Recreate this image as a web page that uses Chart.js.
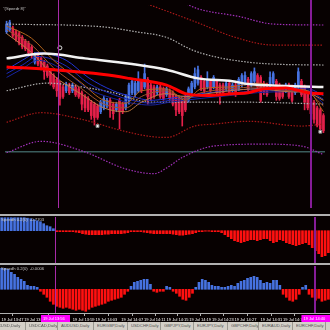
<!DOCTYPE html>
<html>
<head>
<meta charset="utf-8">
<script src="https://cdn.jsdelivr.net/npm/chart.js@4.4.0/dist/chart.umd.min.js"></script>
<style>
html, body { margin: 0; padding: 0; background: #070101; }
#wrap { position: relative; width: 330px; height: 330px; overflow: hidden; background: #070101; }
#wrap canvas { position: absolute; left: 0; }
.sep { position: absolute; left: 0; width: 330px; height: 2px; background: #b0b0b0; }
.lbl { position: absolute; left: 1px; font: 6px "Liberation Sans", sans-serif; color: #c8c8c8; white-space: nowrap;
       transform: scale(0.7); transform-origin: left top; }
#tabs { position: absolute; left: 0; top: 322px; width: 330px; height: 8px; background: #d4d0c8; }
.tab { position: absolute; top: 0; height: 8px; border-left: 1px solid #9a9890; }
.tab span { position: absolute; left: 3px; top: 1px; font: 6px "Liberation Sans", sans-serif; color: #505050;
            white-space: nowrap; transform: scale(0.7); transform-origin: left top; }
</style>
</head>
<body>
<div id="wrap">
  <canvas id="main" width="330" height="213" style="top:0"></canvas>
  <div class="sep" style="top:214px"></div>
  <canvas id="ind1" width="330" height="46" style="top:217px"></canvas>
  <div class="sep" style="top:263px"></div>
  <canvas id="ind2" width="330" height="56" style="top:266px"></canvas>
  <div class="lbl" style="top:6px;left:3px">"(Speedr 8)"</div>
  <div class="lbl" style="top:217px">Speedh 0.2(0)&nbsp;&nbsp;-0.7703</div>
  <div class="lbl" style="top:266px">Speedh 0.2(0)&nbsp;&nbsp;-0.0006</div>
  <div id="tabs"></div>
</div>
<script>
// candles, 1 bar per index (price in points)
const open  = [186,188,190,186,184,180,176,174,170,154, 162,158,154,150,144,140,136,132,128,124,
               130,124,128,126,122,118,116,112,110,108, 102,106,108,114,110,104,114,110,106,114,
               122,120,124,134,128,136,130,128,122,128, 126,120,124,122,118,116,114,118,114,122,
               128,132,138,134,128,134,128,134,130,130, 126,132,124,130,126,130,132,136,130,134,
               140,138,132,130,130,132,134,130,128,124, 130,128,122,128,134,128,122,116,112,106,
               104,98];
const high  = [197,198,192,188,186,182,178,176,172,164, 164,160,156,152,146,142,138,134,130,133,
               132,132,130,128,124,120,118,114,112,110, 114,118,116,116,112,112,116,112,120,132,
               136,134,144,136,152,138,132,130,130,130, 128,128,126,124,120,118,116,120,128,134,
               148,150,140,136,144,136,140,136,132,132, 134,134,132,132,138,142,144,138,144,148,
               142,140,134,132,144,144,136,132,130,132, 132,130,132,148,136,130,124,118,114,108,
               106,100];
const low   = [184,186,180,176,172,168,166,162,158,152, 150,146,136,138,130,126,118,109,116,122,
               120,122,118,116,104,102,102,94,88,94,    100,104,106,96,94,102,84,100,104,110,
               120,118,122,122,126,110,114,116,120,116, 114,118,114,108,98,100,87,102,112,120,
               126,130,124,122,126,122,126,120,110,120, 124,120,122,118,124,128,130,124,128,132,
               126,112,120,118,128,130,114,114,116,122, 116,112,120,126,118,104,104,96,90,86,
               80,80];
const close = [194,196,182,178,174,170,168,164,162,162, 152,148,144,140,132,128,124,116,118,131,
               122,130,120,118,110,106,104,98,96,96,    112,116,114,104,100,110,102,102,118,130,
               134,132,136,124,142,118,116,118,128,118, 116,126,116,110,104,102,98,104,126,132,
               142,146,126,124,136,124,138,122,118,122, 132,122,130,120,136,140,140,126,142,144,
               128,114,122,120,138,142,118,116,118,130, 118,114,130,144,120,112,106,100,94,88,
               84,82];

// moving averages and bands (bar index / price)
const whiteX = [0,12,25,40,51,61,72,77,90,101];
const whiteY = [158,163,158,152,146,137,134,131,129,128];
const redX = [0,15,31,39,51,57,64,72,77,82,89,96,101];
const redY = [149,146,141,137,130,121,119,121,122,126,127,122,121];

const brownX = [0,8,15,24,31,38,43,51,57,62,71,80,90,96,101];
const brownA = [192,179,156,132,114,111,124,126,114,126,128,132,126,124,102];
const brownB = [188,172,148,126,110,106,118,124,116,122,126,128,124,122,108];
const brownC = [184,164,140,120,106,102,112,121,118,120,124,126,123,122,114];
const blueX = [0,5,10,19,26,34,40,46,52,62,71,80,90,96,101];
const blueA = [146,156,164,156,138,124,118,114,116,121,124,126,126,126,119];
const blueB = [142,151,160,150,132,120,114,111,114,118,121,124,124,124,115];
const blueC = [138,147,156,144,126,116,111,109,112,116,119,122,123,123,111];

const purpleUpX = [52,58,61,74,85,101];
const purpleUpY = [222,214,210,202,194,193];
const darkRedUpX = [44,54,62,72,85,101];
const darkRedUpY = [216,204,194,181,172,172];
const grayUpX = [0,31,41,51,59,66,77,85,101];
const grayUpY = [194,191,186,180,167,160,154,152,151];
const grayLoX = [0,13,26,34,46,52,77,101];
const grayLoY = [124,132,127,122,112,112,112,110];
const darkRedLoX = [0,11,24,37,46,51,60,66,77,94,101];
const darkRedLoY = [91,101,94,82,76,75,87,89,92,87,89];
const purpleLoX = [0,11,24,38,47,51,56,66,82,94,101];
const purpleLoY = [59,71,61,42,37,43,54,66,68,66,57];
const levelY = 60;

const markX = [29, 100];
const markY = [87, 81];
const fractalX = [17];
const fractalY = [169];

// oscillators
const osc1 = [13,13,13,13,13,13,13,13,12.5,12, 11,10,9,7,5,4,2,-1,-1,-1,
              -1,-1,-1,-1.5,-2,-3,-3.5,-4,-4,-4, -4,-4,-3.5,-3.5,-3,-3,-3,-3,-2.5,-2,
              -1,-1,-1,-1,-1.5,-2,-2.5,-3,-3,-3, -3,-3,-3,-3.5,-4,-4.5,-4.5,-4,-3.5,-3,
              -2,-1,-1,-0.5,-0.5,-1,-1,-1,-2,-4, -6,-8,-10,-11,-12,-11,-10,-9,-9,-10,
              -9,-8,-8,-10,-12,-11,-9,-10,-12,-13, -14,-15,-14,-13,-12,-14,-17,-20,-23,-26,
              -25,-22];
const osc2 = [21,21,20,17,15,12,10,8,4,3, 3,2,-2,-5,-8,-12,-15,-17,-18,-19,
              -18,-19,-20,-21,-20,-21,-22,-20,-18,-17, -16,-15,-14,-12,-11,-10,-9,-8,-5,-2,
              3,7,8,9,10,10,5,-2,-3,-2, -2,3,2,-2,-4,-7,-10,-11,-8,-4,
              2,7,10,9,7,4,3,3,2,2, 3,4,3,6,8,9,11,12,13,12,
              9,6,7,6,9,9,4,-5,-8,-11, -12,-10,-5,2,4,-5,-8,-11,-9,-12,
              -11,-10];

const timeIdx = [0,7,22,29,37,44,51,58,65,72,80,87];
const timeLabels = ["19 Jul 13:47","19 Jul 13:51","19 Jul 13:59","19 Jul 14:03","19 Jul 14:07","19 Jul 14:11",
                    "19 Jul 14:15","19 Jul 14:19","19 Jul 14:23","19 Jul 14:27","19 Jul 14:31","19 Jul 14:35"];
const cursorIdx = [16.5, 97];
const cursorLabels = ["19 Jul 13:56", "19 Jul 14:40"];

const tabNames = ["EURUSD,Daily","USDCAD,Daily","AUDUSD,Daily","EURGBP,Daily","USDCHF,Daily","GBPJPY,Daily",
                  "EURJPY,Daily","GBPCHF,Daily","EURAUD,Daily","EURCHF,Daily",""];
const tabLeft = [-12,25,57,93,127,160,193,227,258,292,325];

const BLUE = "#4672e0";
const RED = "#e4204a";
const idx = open.map((_, i) => i);
const pts = (xs, ys) => xs.map((x, i) => ({ x: x, y: ys[i] }));

function line(xs, ys, color, width, order, dash) {
    return {
        type: "line", data: pts(xs, ys), borderColor: color, borderWidth: width,
        borderDash: dash || [], pointRadius: 0, cubicInterpolationMode: "monotone", order: order
    };
}

const cursorPlugin = {
    id: "cursor",
    afterDatasetsDraw(chart) {
        const ctx = chart.ctx;
        cursorIdx.forEach((c, k) => {
            const x = Math.round(chart.scales.x.getPixelForValue(c)) + (k ? 0 : 0.5);
            ctx.save();
            ctx.strokeStyle = k ? "#861c98" : "#a82aa8";
            ctx.lineWidth = k ? 2 : 1;
            ctx.beginPath();
            ctx.moveTo(x, 0);
            ctx.lineTo(x, chart.chartArea.bottom);
            ctx.stroke();
            ctx.restore();
        });
    }
};

function baseOptions(ymin, ymax) {
    return {
        responsive: false, animation: false, events: [],
        layout: { padding: 0 },
        plugins: { legend: { display: false }, tooltip: { enabled: false } },
        scales: {
            x: { type: "linear", min: -0.5, max: 101.5, offset: false, display: false },
            y: { min: ymin, max: ymax, display: false }
        }
    };
}

// main price panel
new Chart(document.getElementById("main"), {
    type: "bar",
    data: {
        datasets: [
            { type: "scatter", data: pts(markX, markY), pointStyle: "rect", pointRadius: 2,
              backgroundColor: "#ffffff", borderColor: "#888888", borderWidth: 1, order: 0 },
            { type: "scatter", data: pts(fractalX, fractalY), pointStyle: "circle", pointRadius: 2,
              backgroundColor: "rgba(0,0,0,0)", borderColor: "#e0e0e0", borderWidth: 1, order: 0 },
            line(redX, redY, "#ff0000", 3, 1),
            line(whiteX, whiteY, "#f2f2f2", 2.5, 2),
            line(brownX, brownA, "#b5651d", 1, 3),
            line(brownX, brownB, "#a0522d", 1, 3),
            line(brownX, brownC, "#c07a40", 1, 3),
            line(blueX, blueA, "#2236d8", 1, 3),
            line(blueX, blueB, "#1c2cb8", 1, 3),
            line(blueX, blueC, "#1824a0", 1, 3),
            line(purpleUpX, purpleUpY, "#a030b8", 1.2, 4, [1.5, 1.5]),
            line(darkRedUpX, darkRedUpY, "#a81818", 1.2, 4, [1.5, 1.5]),
            line(grayUpX, grayUpY, "#b0b0b0", 1.2, 4, [1.5, 1.5]),
            line(grayLoX, grayLoY, "#b0b0b0", 1.2, 4, [1.5, 1.5]),
            line(darkRedLoX, darkRedLoY, "#a81818", 1.2, 4, [1.5, 1.5]),
            line(purpleLoX, purpleLoY, "#a030b8", 1.2, 4, [1.5, 1.5]),
            {
                type: "bar", grouped: false, order: 5, barThickness: 2,
                data: idx.map(i => ({ x: i, y: [Math.min(open[i], close[i]), Math.max(open[i], close[i])] })),
                backgroundColor: c => close[c.dataIndex] >= open[c.dataIndex] ? BLUE : RED
            },
            {
                type: "bar", grouped: false, order: 6, barThickness: 1,
                data: idx.map(i => ({ x: i, y: [low[i], high[i]] })),
                backgroundColor: c => close[c.dataIndex] >= open[c.dataIndex] ? BLUE : RED
            },
            line([-0.5, 101.5], [levelY, levelY], "#3a5c5c", 1.5, 7)
        ]
    },
    options: baseOptions(1, 214),
    plugins: [cursorPlugin]
});

// first oscillator
new Chart(document.getElementById("ind1"), {
    type: "bar",
    data: {
        datasets: [{
            data: idx.map(i => ({ x: i, y: osc1[i] })), barThickness: 2,
            backgroundColor: c => osc1[c.dataIndex] >= 0 ? BLUE : "#ff1010"
        }]
    },
    options: baseOptions(-32.3, 13.7),
    plugins: [cursorPlugin]
});

// second oscillator with time axis
const opt2 = baseOptions(-23.7, 23.3);
opt2.scales.x = {
    type: "linear", min: -0.5, max: 101.5, offset: false, display: true, position: "bottom",
    afterFit: s => { s.height = 9; },
    afterBuildTicks: s => { s.ticks = timeIdx.map(v => ({ value: v })); },
    ticks: {
        autoSkip: false, maxRotation: 0, align: "start", padding: 1, color: "#ffffff",
        font: { size: 4, family: "Liberation Sans" },
        callback: v => timeLabels[timeIdx.indexOf(v)]
    },
    grid: { drawOnChartArea: false, drawTicks: true, tickLength: 3, color: "#b0b0b0" },
    border: { display: true, color: "#b0b0b0", width: 1 }
};
new Chart(document.getElementById("ind2"), {
    type: "bar",
    data: {
        datasets: [{
            data: idx.map(i => ({ x: i, y: osc2[i] })), barThickness: 2,
            backgroundColor: c => osc2[c.dataIndex] >= 0 ? BLUE : "#ff1010"
        }]
    },
    options: opt2,
    plugins: [cursorPlugin, {
        id: "cursorTime",
        afterDraw(chart) {
            const ctx = chart.ctx;
            const y0 = chart.chartArea.bottom + 2;
            cursorIdx.forEach((c, k) => {
                const x = chart.scales.x.getPixelForValue(c);
                ctx.save();
                ctx.fillStyle = "#ff00ff";
                ctx.fillRect(x - 14, y0, 29, 7);
                ctx.fillStyle = "#ffffff";
                ctx.font = '4px "Liberation Sans"';
                ctx.textBaseline = "middle";
                ctx.fillText(cursorLabels[k], x - 12, y0 + 3.5);
                ctx.restore();
            });
        }
    }]
});

// symbol tabs
const tabs = document.getElementById("tabs");
tabNames.forEach((name, i) => {
    const d = document.createElement("div");
    d.className = "tab";
    d.style.left = tabLeft[i] + "px";
    const s = document.createElement("span");
    s.textContent = name;
    d.appendChild(s);
    tabs.appendChild(d);
});
</script>
</body>
</html>
